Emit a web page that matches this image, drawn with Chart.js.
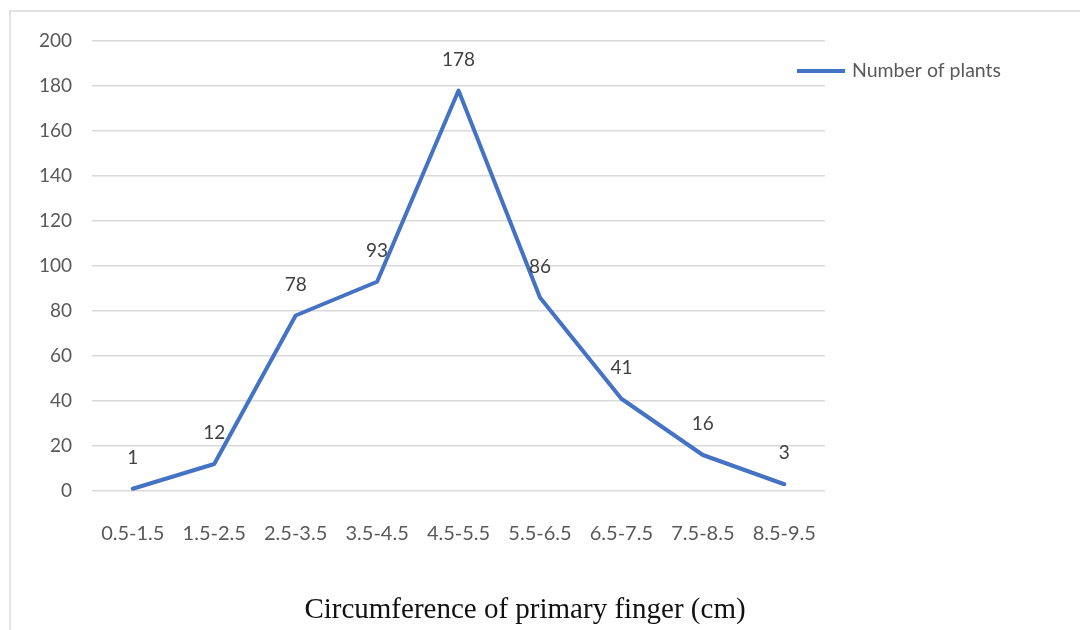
<!DOCTYPE html>
<html>
<head>
<meta charset="utf-8">
<script src="https://cdn.jsdelivr.net/npm/chart.js@4.4.1/dist/chart.umd.min.js"></script>
<style>
  html, body { margin: 0; padding: 0; background: #fff; }
  #frame {
    position: absolute; left: 9px; top: 10px; width: 1080px; height: 640px;
    border-left: 2px solid #e2e2e2; border-top: 2px solid #e2e2e2;
  }
  #wrap { position: absolute; left: 0; top: 0; width: 1080px; height: 630px; }
</style>
</head>
<body>
<div id="frame"></div>
<div id="wrap"><canvas id="chart"></canvas></div>
<script>
// dữ liệu
const categories = ["0.5-1.5", "1.5-2.5", "2.5-3.5", "3.5-4.5", "4.5-5.5", "5.5-6.5", "6.5-7.5", "7.5-8.5", "8.5-9.5"];
const plants = [1, 12, 78, 93, 178, 86, 41, 16, 3];
const seriesName = "Number of plants";
const xTitle = "Circumference of primary finger (cm)";
const yMin = 0, yMax = 200, yStep = 20;

const lineColor = "#4472C4";
const textColor = "#595959";
const bodyFont = "Lato, 'Open Sans', sans-serif";

// nhãn giá trị phía trên mỗi điểm
const valueLabels = {
  id: "valueLabels",
  afterDatasetsDraw(chart) {
    const ctx = chart.ctx;
    const meta = chart.getDatasetMeta(0);
    ctx.save();
    ctx.font = "19px " + bodyFont;
    ctx.fillStyle = "#404040";
    ctx.textAlign = "center";
    ctx.textBaseline = "middle";
    meta.data.forEach((pt, i) => {
      ctx.fillText(String(plants[i]), pt.x, pt.y - 31);
    });
    ctx.restore();
  }
};

// chú thích kiểu Excel ở góc phải + tiêu đề trục X (căn giữa theo cả hình)
const extras = {
  id: "extras",
  afterDraw(chart) {
    const ctx = chart.ctx;
    const area = chart.chartArea;
    const x0 = area.right - 28;
    const y0 = area.top + 30;
    ctx.save();
    ctx.strokeStyle = lineColor;
    ctx.lineWidth = 4;
    ctx.beginPath();
    ctx.moveTo(x0, y0);
    ctx.lineTo(x0 + 48, y0);
    ctx.stroke();
    ctx.font = "19.5px " + bodyFont;
    ctx.fillStyle = textColor;
    ctx.textAlign = "left";
    ctx.textBaseline = "middle";
    ctx.fillText(seriesName, x0 + 55, y0);

    ctx.font = "29px 'Liberation Serif', 'Times New Roman', serif";
    ctx.fillStyle = "#111";
    ctx.textAlign = "center";
    ctx.fillText(xTitle, chart.width / 2 - 15, area.bottom + 119);
    ctx.restore();
  }
};

new Chart(document.getElementById("chart"), {
  type: "line",
  data: {
    labels: categories,
    datasets: [{
      label: seriesName,
      data: plants,
      borderColor: lineColor,
      borderWidth: 4,
      pointRadius: 0,
      tension: 0,
      borderJoinStyle: "round",
      borderCapStyle: "round",
      fill: false
    }]
  },
  options: {
    responsive: true,
    maintainAspectRatio: false,
    animation: false,
    layout: { padding: { left: 19, right: 255, top: 41, bottom: 61 } },
    plugins: {
      legend: { display: false },
      tooltip: { enabled: false }
    },
    scales: {
      x: {
        offset: true,
        grid: { display: false },
        border: { display: false },
        ticks: { color: textColor, font: { family: bodyFont, size: 20 }, padding: 23, maxRotation: 0 }
      },
      y: {
        min: yMin,
        max: yMax,
        grid: { color: "#d9d9d9", lineWidth: 1.5, drawTicks: false },
        border: { display: false },
        ticks: { stepSize: yStep, color: textColor, font: { family: bodyFont, size: 19 }, padding: 20 }
      }
    }
  },
  plugins: [valueLabels, extras]
});
</script>
</body>
</html>
